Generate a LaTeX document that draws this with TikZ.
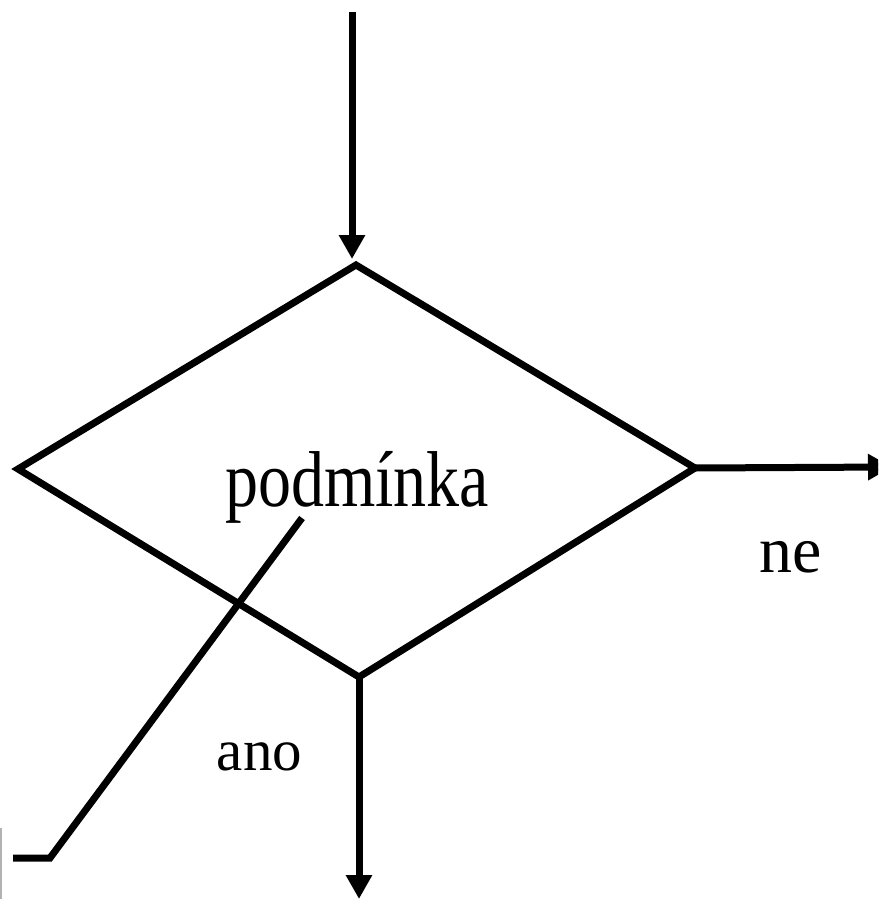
\documentclass[tikz,border=0pt]{standalone}
\usepackage{fontspec}
\setmainfont{Liberation Serif}
\usetikzlibrary{arrows.meta}
\begin{document}
\begin{tikzpicture}[x=1pt, y=-1pt,
  flowline/.style={line width=7pt, line join=miter},
  flowarrow/.style={flowline, -{Triangle[width=25pt, length=24pt]}},
  biglabel/.style={anchor=base, inner sep=0pt, font=\fontsize{66}{70}\selectfont},
  smalllabel/.style={anchor=base, inner sep=0pt, font=\fontsize{59}{64}\selectfont}]
  \useasboundingbox (0,0) rectangle (878,899);
  \clip (0,0) rectangle (878,899);

  % decision vertices
  \coordinate (dtop) at (356,265);
  \coordinate (dleft) at (18,469);
  \coordinate (dright) at (695,468);
  \coordinate (dbottom) at (359,677);

  % flow ends
  \coordinate (entry) at (352,12);
  \coordinate (entrytip) at (352,259);
  \coordinate (noend) at (892,467);
  \coordinate (yesend) at (359,899);

  % comment leader
  \coordinate (leadtop) at (302,518);
  \coordinate (leadknee) at (50,858);
  \coordinate (leadend) at (13,858);

  \draw[flowline] (dtop) -- (dright) -- (dbottom) -- (dleft) -- cycle;
  \draw[flowarrow] (entry) -- (entrytip);
  \draw[flowarrow] (dright) -- (noend);
  \draw[flowarrow] (dbottom) -- (yesend);
  \draw[flowline] (leadtop) -- (leadknee) -- (leadend);
  \draw[gray!60, line width=1.5pt] (0.8,828) -- (0.8,899);

  \node[biglabel] (cond) at (357,506) {\scalebox{1}[1.2]{podmínka}};
  \node[biglabel] (nolabel) at (791,572) {ne};
  \node[smalllabel] (yeslabel) at (259.5,770) {ano};
\end{tikzpicture}
\end{document}
